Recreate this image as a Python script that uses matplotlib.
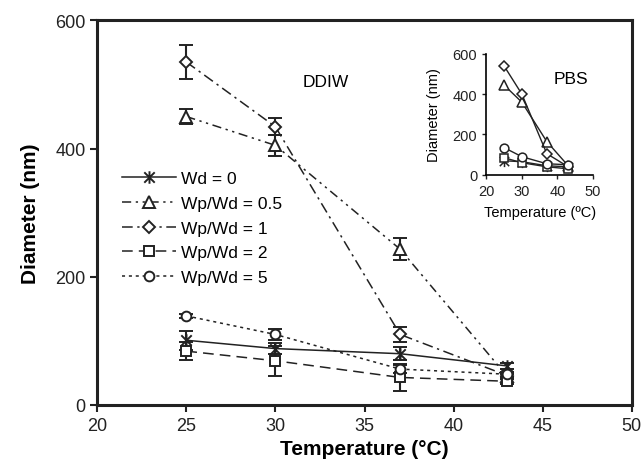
import numpy as np
import matplotlib.pyplot as plt
from matplotlib.path import Path

plt.rcParams['font.family'] = ['Liberation Sans', 'DejaVu Sans']

# Temperatures (deg C)
temps = [25, 30, 37, 43]

# DDIW series (diameter, nm) and error bars
wd0 = [101, 88, 80, 61]
wd0_err = [15, 9, 10, 5]
wp05 = [450, 405, 243, 45]
wp05_err = [12, 16, 17, 4]
wp1 = [535, 434, 110, 46]
wp1_err = [27, 13, 12, 4]
wp2 = [84, 69, 43, 37]
wp2_err = [14, 23, 21, 4]
wp5 = [139, 110, 56, 48]
wp5_err = [3, 8, 6, 4]

# PBS inset series
pbs_wd0 = [70, 65, 45, 40]
pbs_wp05 = [445, 360, 165, 45]
pbs_wp1 = [540, 400, 105, 40]
pbs_wp2 = [85, 60, 40, 30]
pbs_wp5 = [135, 90, 55, 50]

# asterisk-like marker: an X with a vertical stroke
star = Path([(-1, -1), (1, 1), (-1, 1), (1, -1), (0, -1.2), (0, 1.2)],
            [Path.MOVETO, Path.LINETO, Path.MOVETO, Path.LINETO, Path.MOVETO, Path.LINETO])

labels = ['Wd = 0', 'Wp/Wd = 0.5', 'Wp/Wd = 1', 'Wp/Wd = 2', 'Wp/Wd = 5']
markers = [star, '^', 'D', 's', 'o']
msizes = [9, 8, 6, 7, 7]
styles = ['-', (0, (6, 3, 1.5, 3, 1.5, 3)), (0, (7, 3, 1.5, 3)), (0, (7, 4)), (0, (2, 2.5))]

fig = plt.figure(figsize=(6.44, 4.64), dpi=100)
ax = fig.add_axes([0.151, 0.125, 0.830, 0.829])

series = [wd0, wp05, wp1, wp2, wp5]
errs = [wd0_err, wp05_err, wp1_err, wp2_err, wp5_err]
for vals, err, lab, mk, ms, ls in zip(series, errs, labels, markers, msizes, styles):
    ax.errorbar(temps, vals, yerr=err, color='#222222', linestyle=ls, linewidth=1.1,
                marker=mk, markersize=ms, markerfacecolor='white', markeredgecolor='#222222',
                markeredgewidth=1.4, ecolor='#222222', elinewidth=1.5, capsize=5, capthick=1.5,
                label=lab)

ax.set_xlim(20, 50)
ax.set_ylim(0, 600)
ax.set_xticks([20, 25, 30, 35, 40, 45, 50])
ax.set_yticks([0, 200, 400, 600])
ax.tick_params(direction='out', length=5, width=1.5, labelsize=13, colors='#222222')
for s in ax.spines.values():
    s.set_linewidth(2.2)
    s.set_color('#222222')
ax.set_xlabel('Temperature (°C)', fontsize=15, fontweight='bold', labelpad=4)
ax.set_ylabel('Diameter (nm)', fontsize=15, fontweight='bold', labelpad=11)
ax.text(31.5, 505, 'DDIW', fontsize=12.5, va='center')

handles, labs = ax.get_legend_handles_labels()
handles = [h[0] for h in handles]
ax.legend(handles, labs, loc='upper left', bbox_to_anchor=(0.034, 0.626), frameon=False,
          fontsize=12.5, handlelength=3.1, labelspacing=0.55, handletextpad=0.3,
          borderaxespad=0)

# inset
ins = fig.add_axes([0.755, 0.621, 0.166, 0.261])
pbs = [pbs_wd0, pbs_wp05, pbs_wp1, pbs_wp2, pbs_wp5]
for vals, mk, ms in zip(pbs, markers, msizes):
    ins.plot(temps, vals, color='#222222', linestyle='-', linewidth=1.0, marker=mk,
             markersize=ms * 0.9, markerfacecolor='white', markeredgecolor='#222222',
             markeredgewidth=1.1)
ins.set_xlim(20, 50)
ins.set_ylim(0, 600)
ins.set_xticks([20, 30, 40, 50])
ins.set_yticks([0, 200, 400, 600])
ins.tick_params(direction='out', length=3, width=1, labelsize=10.5, colors='#222222')
for k in ['top', 'right']:
    ins.spines[k].set_visible(False)
for k in ['left', 'bottom']:
    ins.spines[k].set_linewidth(1.2)
ins.set_xlabel('Temperature (ºC)', fontsize=10.5, labelpad=5)
ins.set_ylabel('Diameter (nm)', fontsize=10.5, labelpad=8)
ins.text(38.8, 476, 'PBS', fontsize=12.5, va='center')

plt.savefig('out.png', dpi=100)
plt.close()
